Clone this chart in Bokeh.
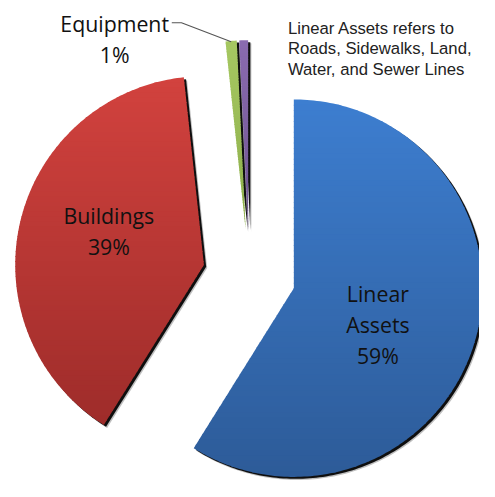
import numpy as np
from bokeh.plotting import figure
from bokeh.models import Range1d
from bokeh.core.properties import value
from bokeh.embed import file_html
from bokeh.resources import INLINE

# ---- data ----
categories = ["Linear Assets", "Buildings", "Equipment", "Other"]
shares = [58.9, 39.4, 0.95, 0.75]
pct_labels = ["59%", "39%", "1%", ""]
top_colors = ["#3D7ED0", "#D2423E", "#A6C862", "#8A6BB0"]
bottom_colors = ["#2D5B98", "#9E2C2A", "#8DAE4A", "#6F5490"]
note_lines = ["Linear Assets refers to", "Roads, Sidewalks, Land,", "Water, and Sewer Lines"]

# ---- geometry (reference pixel space, y downwards) ----
CX, CY, R, EXPLODE = 257.0, 284.0, 195.0, 48.0
W, H = 479, 481
SCALE = W / 495.0

p = figure(width=W, height=H, x_range=Range1d(0, 495), y_range=Range1d(497, 0),
           output_backend="svg", toolbar_location=None, min_border=0,
           x_axis_location=None, y_axis_location=None)
p.grid.visible = False
p.outline_line_color = None
p.background_fill_color = "white"


def hex2rgb(h):
    h = h.lstrip("#")
    return np.array([int(h[i:i + 2], 16) for i in (0, 2, 4)], dtype=float)


def rgb2hex(c):
    c = np.clip(np.round(c), 0, 255).astype(int)
    return "#%02x%02x%02x" % tuple(c)


def clip_half(pts, keep, inter):
    out = []
    n = len(pts)
    for k in range(n):
        P = pts[k]
        Q = pts[(k + 1) % n]
        pin, qin = keep(P), keep(Q)
        if pin:
            out.append(P)
        if pin != qin:
            out.append(inter(P, Q))
    return out


def clip_band(pts, y0, y1):
    def inter_at(yv):
        def f(P, Q):
            t = (yv - P[1]) / (Q[1] - P[1])
            return (P[0] + t * (Q[0] - P[0]), yv)
        return f
    a = clip_half(pts, lambda P: P[1] >= y0, inter_at(y0))
    if not a:
        return a
    return clip_half(a, lambda P: P[1] <= y1, inter_at(y1))


total = float(sum(shares))
start = 0.0
polys = []
for i, s in enumerate(shares):
    a0 = start / total * 2 * np.pi
    a1 = (start + s) / total * 2 * np.pi
    start += s
    mid = 0.5 * (a0 + a1)
    ox = CX + EXPLODE * np.sin(mid)
    oy = CY - EXPLODE * np.cos(mid)
    n = max(6, int(np.degrees(a1 - a0) / 1.0))
    th = np.linspace(a0, a1, n)
    xs = [ox] + list(ox + R * np.sin(th))
    ys = [oy] + list(oy - R * np.cos(th))
    polys.append((xs, ys, ox, oy, mid))

# shadows
for (xs, ys, *_r) in polys:
    p.patch([x + 3.4 for x in xs], [y + 3.2 for y in ys], fill_color="black",
            fill_alpha=0.25, line_color=None)
for (xs, ys, *_r) in polys:
    p.patch([x + 2.3 for x in xs], [y + 2.0 for y in ys], fill_color="black",
            fill_alpha=0.92, line_color=None)

# slices with vertical gradient
NB = 70
for i, (xs, ys, ox, oy, mid) in enumerate(polys):
    pts = list(zip(xs, ys))
    ymin, ymax = min(ys), max(ys)
    c0, c1 = hex2rgb(top_colors[i]), hex2rgb(bottom_colors[i])
    bx, by, bc = [], [], []
    edges = np.linspace(ymin, ymax, NB + 1)
    for b in range(NB):
        y0, y1 = edges[b], edges[b + 1] + 0.9
        poly = clip_band(pts, y0, y1)
        if len(poly) < 3:
            continue
        t = (0.5 * (edges[b] + edges[b + 1]) - ymin) / (ymax - ymin)
        bx.append([q[0] for q in poly])
        by.append([q[1] for q in poly])
        bc.append(rgb2hex(c0 + (c1 - c0) * t))
    p.patches(bx, by, fill_color=bc, line_color=None)

# leader line to Equipment slice
xs_e, ys_e, ox_e, oy_e, mid_e = polys[2]
ex = ox_e + (R - 1) * np.sin(mid_e)
ey = oy_e - (R - 1) * np.cos(mid_e)
p.line([177, 187, ex], [23, 23, ey], line_color="#555555", line_width=1.1)

FONT = value("Open Sans")
fs = "%.1fpx" % (22 * SCALE)
# data labels
p.text(x=[118, 118], y=[24, 56], text=[categories[2], pct_labels[2]], text_font=FONT,
       text_font_size=fs, text_align="center", text_baseline="alphabetic", text_color="#111111")
p.text(x=[112, 112], y=[222, 254], text=[categories[1], pct_labels[1]], text_font=FONT,
       text_font_size=fs, text_align="center", text_baseline="alphabetic", text_color="#111111")
p.text(x=[390, 390, 390], y=[303, 335, 367],
       text=categories[0].split(" ") + [pct_labels[0]], text_font=FONT,
       text_font_size=fs, text_align="center", text_baseline="alphabetic", text_color="#111111")

# note
p.text(x=[297] * 3, y=[29, 50, 71], text=note_lines, text_font=value("Liberation Sans"),
       text_font_size="%.1fpx" % (17.3 * SCALE), text_align="left",
       text_baseline="alphabetic", text_color="#222222")

open("out.html", "w").write(file_html(p, INLINE))
